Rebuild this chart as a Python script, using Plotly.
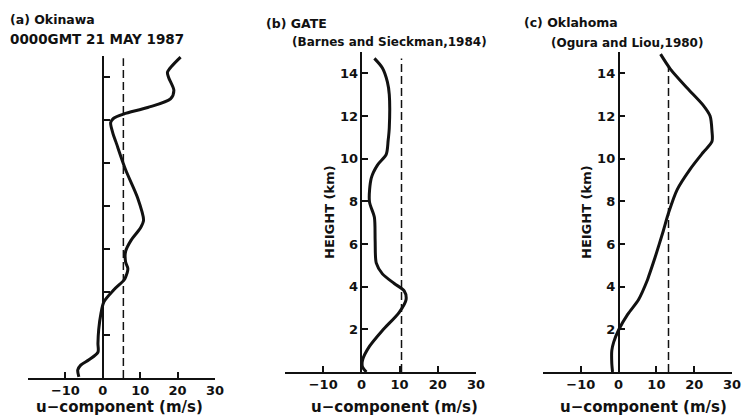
import plotly.graph_objects as go

W, H = 743, 417

# (a) Okinawa sounding, 0000 GMT 21 May 1987: u-component (m/s) vs height (km)
oki_u = [20.8, 17.3, 17.6, 19.0, 18.1, 12.0, 5.6, 2.9, 2.1, 2.7, 3.5, 6.1, 9.3, 10.9,
         10.1, 7.5, 6.1, 6.1, 6.7, 6.1, 5.6, 2.9, 0.3, -0.5, -1.1, -1.3, -1.3, -3.7,
         -5.9, -6.7, -6.4]
oki_z = [14.95, 14.25, 14.0, 13.4, 13.0, 12.6, 12.3, 12.1, 11.9, 11.4, 11.0, 9.7, 8.4,
         7.35, 7.0, 6.4, 5.9, 5.4, 5.1, 4.7, 4.55, 4.1, 3.55, 3.0, 2.25, 1.6, 1.2, 0.85,
         0.6, 0.37, 0.05]
oki_mean = 5.5

# (b) GATE mean profile (Barnes and Sieckman, 1984)
gate_u = [3.4, 5.5, 6.8, 7.3, 7.3, 7.0, 6.5, 4.2, 2.6, 2.1, 3.4, 3.6, 3.9, 5.5, 8.6,
          11.2, 11.7, 9.9, 5.5, 2.1, 0.3, 0.3, 1.3]
gate_z = [14.7, 14.25, 13.6, 13.0, 11.45, 10.85, 10.2, 9.7, 9.1, 8.0, 7.25, 6.15, 5.1,
          4.6, 4.15, 3.8, 3.4, 2.8, 1.95, 1.2, 0.56, 0.23, 0.0]
gate_mean = 10.5

# (c) Oklahoma mean profile (Ogura and Liou, 1980)
okl_u = [11.1, 13.7, 18.2, 22.4, 24.2, 24.7, 24.7, 22.4, 18.9, 15.5, 13.2, 11.8, 9.7,
         7.9, 7.6, 5.3, 2.4, 0.0, -1.3, -1.8, -1.8, -1.6]
okl_z = [14.9, 14.2, 13.3, 12.5, 12.0, 11.3, 10.8, 10.3, 9.5, 8.55, 7.45, 6.6, 5.4,
         4.45, 4.3, 3.4, 2.7, 1.97, 1.4, 1.0, 0.4, 0.0]
okl_mean = 13.2

x_ticks = [-20, -10, 0, 10, 20, 30]
x_tick_text = ["", "\u221210", "0", "10", "20", "30"]
y_ticks = [2, 4, 6, 8, 10, 12, 14]
x_range = [-20, 30]
y_range = [0, 15]

FONT = "DejaVu Sans"
BLACK = "#111111"

# panel boxes in pixels: left, right, bottom, top
boxes = [(28, 215, 378, 56), (285, 476, 372, 52), (543, 732, 372, 52)]
profiles = [(oki_u, oki_z, oki_mean, 14.9), (gate_u, gate_z, gate_mean, 14.7),
            (okl_u, okl_z, okl_mean, 14.3)]
show_ylabels = [False, True, True]

fig = go.Figure()
layout = {}
for i, ((x0, x1, yb, yt), (u, z, mean, dtop), lab) in enumerate(
        zip(boxes, profiles, show_ylabels), start=1):
    xname = "x" if i == 1 else f"x{i}"
    yname = "y" if i == 1 else f"y{i}"
    xdom = [x0 / W, x1 / W]
    ydom = [1 - yb / H, 1 - yt / H]
    zero_pos = xdom[0] + (xdom[1] - xdom[0]) * (0 - x_range[0]) / (x_range[1] - x_range[0])

    fig.add_trace(go.Scatter(x=[mean, mean], y=[0, dtop], mode="lines",
                             line=dict(color=BLACK, width=1.5, dash="8px,4px"),
                             xaxis=xname, yaxis=yname, showlegend=False,
                             hoverinfo="skip"))
    fig.add_trace(go.Scatter(x=u, y=z, mode="lines",
                             line=dict(color=BLACK, width=3, shape="spline",
                                       smoothing=0.8),
                             xaxis=xname, yaxis=yname, showlegend=False))

    layout["xaxis" if i == 1 else f"xaxis{i}"] = dict(
        domain=xdom, range=x_range, anchor=yname, showline=True, linecolor=BLACK,
        linewidth=1.6, ticks="inside", ticklen=6, tickwidth=1.6, tickcolor=BLACK,
        tickvals=x_ticks, ticktext=x_tick_text, showgrid=False, zeroline=False,
        tickfont=dict(family=FONT, size=13, color=BLACK, weight="bold"),
        fixedrange=True)
    layout["yaxis" if i == 1 else f"yaxis{i}"] = dict(
        domain=ydom, range=y_range, anchor="free", position=zero_pos, side="left",
        showline=True, linecolor=BLACK, linewidth=1.6, ticks="inside", ticklen=6,
        tickwidth=1.6, tickcolor=BLACK, tickvals=y_ticks, showticklabels=lab,
        showgrid=False, zeroline=False,
        tickfont=dict(family=FONT, size=13, color=BLACK, weight="bold"),
        fixedrange=True)

bold = dict(family=FONT, color=BLACK, weight="bold")

annotations = []


def note(text, x, y, size, xanchor="left", angle=0):
    annotations.append(dict(text=text, x=x / W, y=1 - y / H, xref="paper", yref="paper",
                            xanchor=xanchor, yanchor="middle", showarrow=False,
                            textangle=angle, font=dict(size=size, **bold)))


note("(a) Okinawa", 8, 19, 12.5)
note("0000GMT 21 MAY 1987", 8, 39, 13.5)
note("(b) GATE", 264, 24, 12.5)
note("(Barnes and Sieckman,1984)", 290, 42, 12)
note("(c) Oklahoma", 522, 23, 12.5)
note("(Ogura and Liou,1980)", 549, 43, 12)
for cx in (119, 394, 643):
    note("u\u2212component (m/s)", cx, 407, 15, xanchor="center")
for cx in (330, 587):
    note("HEIGHT (km)", cx, 212, 13, xanchor="center", angle=-90)

fig.update_layout(width=W, height=H, margin=dict(l=0, r=0, t=0, b=0),
                  template="none", paper_bgcolor="white", plot_bgcolor="rgba(0,0,0,0)",
                  annotations=annotations, **layout)

fig.write_html("out.html")
